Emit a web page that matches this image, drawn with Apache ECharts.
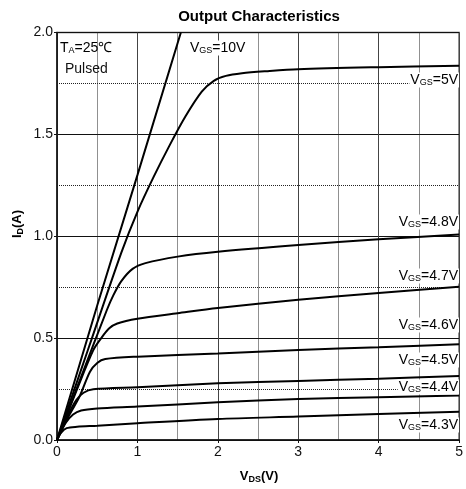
<!DOCTYPE html>
<html>
<head>
<meta charset="utf-8">
<script src="https://cdn.jsdelivr.net/npm/echarts@6/dist/echarts.min.js"></script>
<style>html,body{margin:0;padding:0;background:#fff}#c{width:466px;height:489px}</style>
</head>
<body>
<div id="c"></div>
<script>
// Data (VDS in V, ID in A)
var vgs10 = [[0,0],[0.5,0.66],[1.0,1.3],[1.54,2.0]];
var vgs5 = [[0,0],[0.4,0.46],[0.8,0.92],[1.0,1.12],[1.2,1.29],[1.4,1.446],[1.6,1.59],[1.8,1.71],[1.95,1.763],[2.1,1.787],[2.3,1.8],[2.6,1.81],[3,1.82],[4,1.83],[5,1.837]];
var vgs48 = [[0,0],[0.3,0.31],[0.62,0.638],[0.7,0.71],[0.8,0.78],[0.94,0.84],[1.1,0.868],[1.5,0.9],[2,0.924],[3,0.957],[4,0.985],[5,1.008]];
var vgs47 = [[0,0],[0.25,0.25],[0.45,0.44],[0.55,0.5],[0.65,0.548],[0.75,0.572],[1,0.595],[1.5,0.622],[2,0.648],[3,0.688],[4,0.722],[5,0.752]];
var vgs46 = [[0,0],[0.15,0.12],[0.28,0.213],[0.41,0.335],[0.5,0.378],[0.6,0.397],[1,0.409],[2,0.425],[3,0.442],[4,0.455],[5,0.47]];
var vgs45 = [[0,0],[0.12,0.11],[0.24,0.196],[0.33,0.232],[0.45,0.249],[1,0.259],[2,0.278],[3,0.29],[4,0.301],[5,0.314]];
var vgs44 = [[0,0],[0.1,0.08],[0.2,0.125],[0.3,0.145],[0.5,0.155],[1,0.164],[2,0.185],[3,0.201],[4,0.21],[5,0.218]];
var vgs43 = [[0,0],[0.05,0.035],[0.12,0.058],[0.25,0.065],[0.5,0.07],[1,0.082],[2,0.103],[3,0.115],[4,0.128],[5,0.139]];
var seriesData = [vgs10, vgs5, vgs48, vgs47, vgs46, vgs45, vgs44, vgs43];
var curveLabels = ['10V','5V','4.8V','4.7V','4.6V','4.5V','4.4V','4.3V'];
var xTicks = [0,1,2,3,4,5];
var yTicks = ['0.0','0.5','1.0','1.5','2.0'];

var FONT = 'Liberation Sans, Arial, sans-serif';
var chart = echarts.init(document.getElementById('c'), null, {renderer:'canvas'});

var rich = {
  m: {fontSize: 14, fontFamily: FONT, color: '#111', lineHeight: 15},
  s: {fontSize: 9, fontFamily: FONT, color: '#111', lineHeight: 9, verticalAlign: 'bottom'}
};
function lbl(text, x, y, align, bg) {
  return {
    type: 'text', x: x, y: y, z: 100,
    style: {
      text: text, rich: rich, align: align || 'right', verticalAlign: 'middle',
      backgroundColor: bg ? '#fff' : null, padding: bg ? [0,1,0,1] : 0
    }
  };
}
var labelPos = [
  [189, 48, 'left'], [459, 80], [459, 222], [459, 276], [459, 325], [459, 360], [459, 387], [459, 425]
];
var graphics = [];
curveLabels.forEach(function (t, i) {
  var p = labelPos[i];
  graphics.push(lbl('{m|V}{s|GS}{m|=' + t + '}', p[0], p[1], p[2] || 'right', true));
});
graphics.push(lbl('{m|T}{s|A}{m|=25℃}', 60, 48, 'left', false));
graphics.push({type:'text', x: 65, y: 69, z: 100, style: {text: 'Pulsed', font: '14px ' + FONT, fill: '#111', verticalAlign: 'middle'}});
graphics.push({type:'text', x: 259, y: 17, z: 100, style: {text: 'Output Characteristics', font: 'bold 15px ' + FONT, fill: '#000', align: 'center', verticalAlign: 'middle'}});
graphics.push({type:'text', x: 259, y: 476, z: 100, style: {
  text: '{m|V}{s|DS}{m|(V)}', align: 'center', verticalAlign: 'middle',
  rich: {m: {fontSize: 13, fontWeight: 'bold', fontFamily: FONT, color: '#000', lineHeight: 16},
         s: {fontSize: 9, fontWeight: 'bold', fontFamily: FONT, color: '#000', lineHeight: 10, verticalAlign: 'bottom'}}
}});
graphics.push({type:'text', x: 17, y: 224, rotation: Math.PI / 2, z: 100, style: {
  text: '{m|I}{s|D}{m|(A)}', align: 'center', verticalAlign: 'middle',
  rich: {m: {fontSize: 13, fontWeight: 'bold', fontFamily: FONT, color: '#000', lineHeight: 16},
         s: {fontSize: 9, fontWeight: 'bold', fontFamily: FONT, color: '#000', lineHeight: 10, verticalAlign: 'bottom'}}
}});

chart.setOption({
  animation: false,
  backgroundColor: '#fff',
  grid: {left: 57, right: 3.5, top: 32.5, bottom: 49, show: true, borderColor: '#555', borderWidth: 1.5, backgroundColor: 'transparent'},
  xAxis: {
    type: 'value', min: 0, max: 5, interval: 1,
    axisLine: {show: true, onZero: false, lineStyle: {color: '#111', width: 1.5}},
    axisTick: {show: true, length: 3, lineStyle: {color: '#111'}},
    axisLabel: {fontSize: 14, fontFamily: FONT, color: '#111', margin: 5,
      formatter: function (v) { return xTicks.indexOf(v) >= 0 ? String(v) : ''; }},
    splitLine: {show: true, lineStyle: {color: '#444', width: 1, type: 'solid'}},
    minorTick: {show: true, splitNumber: 2, length: 0},
    minorSplitLine: {show: true, lineStyle: {color: '#222', width: 1, type: [1, 1]}}
  },
  yAxis: {
    type: 'value', min: 0, max: 2, interval: 0.5,
    axisLine: {show: true, onZero: false, lineStyle: {color: '#111', width: 1.5}},
    axisTick: {show: true, length: 3, lineStyle: {color: '#111'}},
    axisLabel: {fontSize: 14, fontFamily: FONT, color: '#111', margin: 4,
      formatter: function (v) { return yTicks[Math.round(v / 0.5)]; }},
    splitLine: {show: true, lineStyle: {color: '#111', width: 1, type: 'solid'}},
    minorTick: {show: true, splitNumber: 2, length: 0},
    minorSplitLine: {show: true, lineStyle: {color: '#222', width: 1, type: [1, 1]}}
  },
  series: seriesData.map(function (d, i) {
    return {
      type: 'line', name: 'VGS=' + curveLabels[i], data: d, showSymbol: false,
      smooth: i === 0 ? false : 0.3, clip: true,
      lineStyle: {color: '#000', width: 2}, z: 5
    };
  }),
  graphic: graphics
});
</script>
</body>
</html>
